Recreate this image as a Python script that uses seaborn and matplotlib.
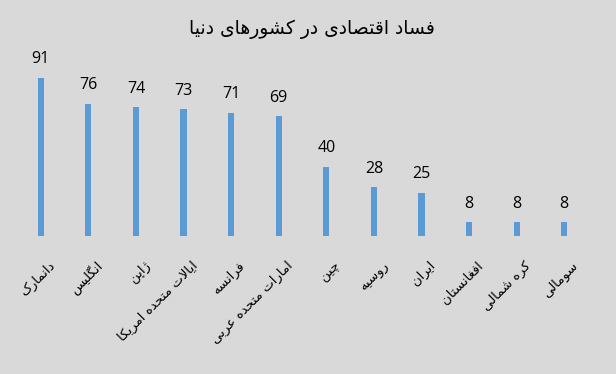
import matplotlib
matplotlib.use("Agg")
import matplotlib.pyplot as plt
import matplotlib.transforms as mtransforms
import seaborn as sns
import pandas as pd

title = "فساد اقتصادی در کشورهای دنیا"
countries = ["دانمارک", "انگلیس", "ژاپن", "ایالات متحده امریکا", "فرانسه",
             "امارات متحده عربی", "چین", "روسیه", "ایران", "افغانستان",
             "کره شمالی", "سومالی"]
values = [91, 76, 74, 73, 71, 69, 40, 28, 25, 8, 8, 8]

# --- minimal Arabic/Persian shaping (contextual forms + RTL visual order) ---
FORMS = {
    'ا': (0xFE8D, 0xFE8E, None, None),
    'ب': (0xFE8F, 0xFE90, 0xFE91, 0xFE92),
    'ت': (0xFE95, 0xFE96, 0xFE97, 0xFE98),
    'ح': (0xFEA1, 0xFEA2, 0xFEA3, 0xFEA4),
    'د': (0xFEA9, 0xFEAA, None, None),
    'ر': (0xFEAD, 0xFEAE, None, None),
    'س': (0xFEB1, 0xFEB2, 0xFEB3, 0xFEB4),
    'ش': (0xFEB5, 0xFEB6, 0xFEB7, 0xFEB8),
    'ص': (0xFEB9, 0xFEBA, 0xFEBB, 0xFEBC),
    'ع': (0xFEC9, 0xFECA, 0xFECB, 0xFECC),
    'غ': (0xFECD, 0xFECE, 0xFECF, 0xFED0),
    'ف': (0xFED1, 0xFED2, 0xFED3, 0xFED4),
    'ق': (0xFED5, 0xFED6, 0xFED7, 0xFED8),
    'ل': (0xFEDD, 0xFEDE, 0xFEDF, 0xFEE0),
    'م': (0xFEE1, 0xFEE2, 0xFEE3, 0xFEE4),
    'ن': (0xFEE5, 0xFEE6, 0xFEE7, 0xFEE8),
    'ه': (0xFEE9, 0xFEEA, 0xFEEB, 0xFEEC),
    'و': (0xFEED, 0xFEEE, None, None),
    'ژ': (0xFB8A, 0xFB8B, None, None),
    'پ': (0xFB56, 0xFB57, 0xFB58, 0xFB59),
    'چ': (0xFB7A, 0xFB7B, 0xFB7C, 0xFB7D),
    'ک': (0xFB8E, 0xFB8F, 0xFB90, 0xFB91),
    'گ': (0xFB92, 0xFB93, 0xFB94, 0xFB95),
    'ی': (0xFBFC, 0xFBFD, 0xFBFE, 0xFBFF),
}
LAMALEF = (0xFEFB, 0xFEFC)


def dual(c):
    return c in FORMS and FORMS[c][2] is not None


def shape(text):
    chars = list(text)
    out = []
    i = 0
    n = len(chars)
    while i < n:
        c = chars[i]
        prev = chars[i - 1] if i > 0 else None
        if c not in FORMS:
            out.append(c)
            i += 1
            continue
        cp = prev is not None and dual(prev)
        if c == 'ل' and i + 1 < n and chars[i + 1] == 'ا':
            out.append(chr(LAMALEF[1] if cp else LAMALEF[0]))
            i += 2
            continue
        nxt = chars[i + 1] if i + 1 < n else None
        cn = dual(c) and nxt is not None and nxt in FORMS
        f = FORMS[c]
        if cp and cn:
            g = f[3]
        elif cp:
            g = f[1]
        elif cn:
            g = f[2]
        else:
            g = f[0]
        out.append(chr(g))
        i += 1
    return ''.join(reversed(out))


df = pd.DataFrame({"country": countries, "value": values})

sns.set_theme(style="white")
plt.rcParams['font.family'] = ['DejaVu Sans']

bg = "#d9d9d9"
fig = plt.figure(figsize=(6.16, 3.74), dpi=100, facecolor=bg)
ax = fig.add_axes([17 / 616, 138 / 374, 571 / 616, 172 / 374])
ax.set_facecolor(bg)

sns.barplot(data=df, x="country", y="value", color="#5b9bd5", width=0.13,
            saturation=1, linewidth=0, ax=ax)
ax.set_ylim(0, 99)
ax.set_xlim(-0.5, len(countries) - 0.5)
for s in ax.spines.values():
    s.set_visible(False)
ax.set_yticks([])
ax.set_xlabel("")
ax.set_ylabel("")

for i, v in enumerate(values):
    ax.annotate(str(v), (i, v), xytext=(0, 10.5), textcoords="offset points",
                ha="center", va="baseline", fontsize=11.5, color="#000000",
                family=["Open Sans", "DejaVu Sans"])

ax.set_xticks(range(len(countries)))
ax.set_xticklabels([shape(c) for c in countries], rotation=45, ha="right",
                   va="center", rotation_mode="anchor", fontsize=9.5,
                   color="#000000")
ax.tick_params(axis="x", length=0, pad=20)
offset = mtransforms.ScaledTranslation(12 / 100, 0, fig.dpi_scale_trans)
for lab in ax.get_xticklabels():
    lab.set_transform(lab.get_transform() + offset)

fig.text(312 / 616, 1 - 29 / 374, shape(title), ha="center", va="center",
         fontsize=13.5, color="#000000")

fig.savefig("out.png", dpi=100, facecolor=bg)
